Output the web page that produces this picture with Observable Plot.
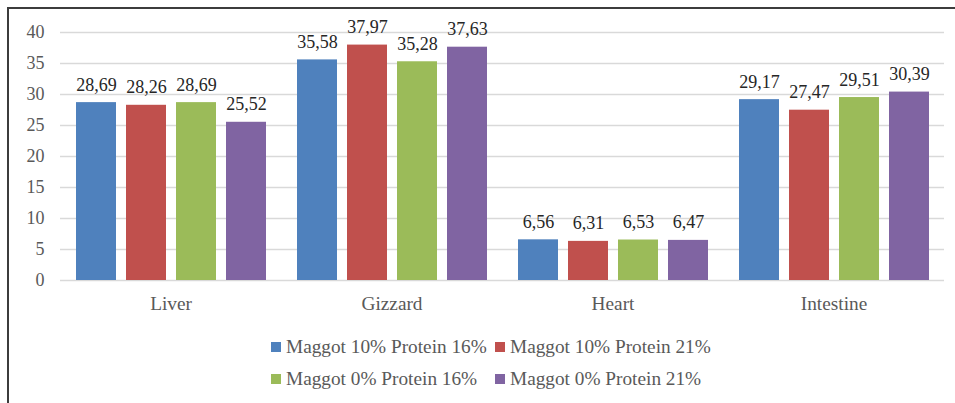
<!DOCTYPE html>
<html><head><meta charset="utf-8">
<script src="https://cdn.jsdelivr.net/npm/d3@7"></script>
<script src="https://cdn.jsdelivr.net/npm/@observablehq/plot@0.6"></script>
<style>
body{margin:0;background:#fff;}
#wrap{position:relative;width:955px;height:403px;overflow:hidden;font-family:"Liberation Serif","Times New Roman",serif;background:#fff;}
#frame{position:absolute;left:7px;top:7px;width:2000px;height:2000px;border-left:2px solid #3c3c3c;border-top:2px solid #3c3c3c;}
#chart{position:absolute;left:0;top:0;}
#legend{position:absolute;left:271px;top:331px;display:grid;grid-template-columns:224px 240px;font-size:19.3px;line-height:32px;color:#595959;}
#legend .sw{display:inline-block;width:10px;height:10px;margin-right:5px;vertical-align:1px;}
</style>
</head><body>
<div id="wrap"><div id="frame"></div><div id="chart"></div><div id="legend"></div></div>
<script>
const categories = ["Liver", "Gizzard", "Heart", "Intestine"];
const series = ["Maggot 10% Protein 16%", "Maggot 10% Protein 21%", "Maggot 0% Protein 16%", "Maggot 0% Protein 21%"];
const m10p16 = [28.69, 35.58, 6.56, 29.17];
const m10p21 = [28.26, 37.97, 6.31, 27.47];
const m0p16 = [28.69, 35.28, 6.53, 29.51];
const m0p21 = [25.52, 37.63, 6.47, 30.39];
const yTicks = [0, 5, 10, 15, 20, 25, 30, 35, 40];
const colors = ["#4F81BD", "#C0504D", "#9BBB59", "#8064A2"];

const seriesValues = [m10p16, m10p21, m0p16, m0p21];
const data = [];
categories.forEach((c, i) => {
  series.forEach((s, j) => data.push({cat: c, series: s, value: seriesValues[j][i]}));
});
const fmt = v => v.toFixed(2).replace(".", ",");

const chart = Plot.plot({
  width: 955,
  height: 320,
  marginLeft: 59,
  marginRight: 10,
  marginTop: 32,
  marginBottom: 40,
  style: {fontFamily: '"Liberation Serif","Times New Roman",serif', background: "transparent"},
  fx: {domain: categories, padding: 0, label: null, axis: null},
  x: {domain: series, paddingInner: 0.21, paddingOuter: 0.29, axis: null},
  y: {domain: [0, 40], label: null},
  color: {domain: series, range: colors},
  marks: [
    Plot.gridY(yTicks, {stroke: "#d9d9d9", strokeOpacity: 1, strokeWidth: 1.5}),
    Plot.barY(data, {fx: "cat", x: "series", y: "value", fill: "series"}),
    Plot.text(data, {fx: "cat", x: "series", y: "value", text: d => fmt(d.value), lineAnchor: "bottom", dy: -12, fontSize: 18, fill: "#262626"}),
    Plot.axisY(yTicks, {tickSize: 0, tickPadding: 16, fontSize: 18, fill: "#595959", label: null, tickFormat: d => d}),
    Plot.axisFx({anchor: "bottom", tickSize: 0, tickPadding: 16, fontSize: 19.3, fill: "#595959", label: null})
  ]
});
document.getElementById("chart").appendChild(chart);

const legend = document.getElementById("legend");
series.forEach((s, j) => {
  const item = document.createElement("div");
  const sw = document.createElement("span");
  sw.className = "sw";
  sw.style.background = colors[j];
  item.appendChild(sw);
  item.appendChild(document.createTextNode(s));
  legend.appendChild(item);
});
</script>
</body></html>
